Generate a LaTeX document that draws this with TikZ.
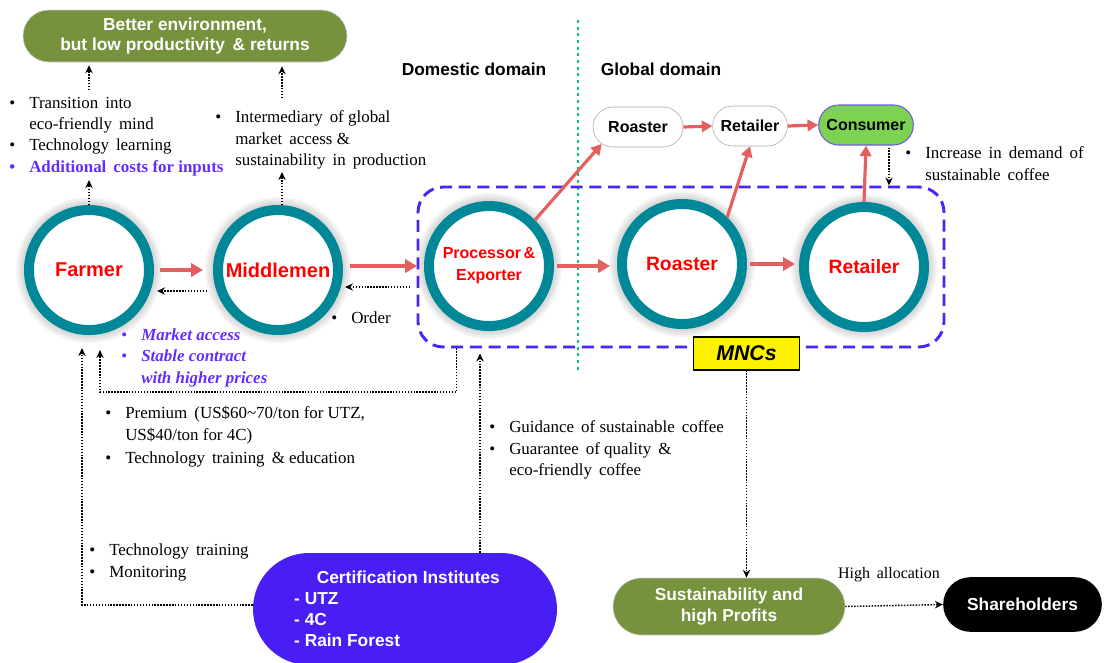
\documentclass[tikz,border=0pt]{standalone}
\usepackage{fontspec}
\setmainfont{Liberation Serif}
\setsansfont{Liberation Sans}
\usetikzlibrary{arrows.meta,calc,shapes.misc,backgrounds}
\definecolor{teal1}{RGB}{0,135,152}
\definecolor{redarr}{RGB}{226,96,96}
\definecolor{dashblue}{RGB}{72,36,255}
\definecolor{certblue}{RGB}{72,30,245}
\definecolor{txtblue}{RGB}{100,45,255}
\definecolor{olive1}{RGB}{118,146,60}
\definecolor{consgreen}{RGB}{125,210,82}
\definecolor{consborder}{RGB}{110,90,230}
\definecolor{dotgreen}{RGB}{0,200,110}
\newcommand{\bul}{\makebox[15pt][l]{•}}
\newcommand{\ind}{\hspace*{15pt}}
\begin{document}
\begin{tikzpicture}[x=0.75pt,y=-0.75pt,
  ring/.style={circle, draw=teal1, line width=7.5pt, fill=white, minimum size=90pt, inner sep=0pt, text=red, font=\sffamily\bfseries\fontsize{15}{18}\selectfont, align=center},
  redarrow/.style={draw=redarr, line width=3pt, -{Triangle[length=9pt,width=10pt]}},
  redarrowthin/.style={draw=redarr, line width=2.4pt, -{Triangle[length=8pt,width=8.5pt]}},
  dotarrow/.style={draw=black, line width=1.1pt, dash pattern=on 1.1pt off 1.1pt, -{Stealth[length=6pt,width=5.5pt]}},
  pill/.style={rounded rectangle, inner sep=0pt, align=center},
  serif/.style={font=\fontsize{12.7}{16}\selectfont, anchor=base west, inner sep=0pt, align=left},
  sanslbl/.style={font=\sffamily\bfseries\fontsize{13}{15}\selectfont, inner sep=0pt}
  ]
\useasboundingbox (0,0) rectangle (1106,662);

% top outcome box
\node[pill, fill=olive1, draw=gray!40, minimum width=243pt, minimum height=39pt, text=white,
      font=\sffamily\bfseries\fontsize{13}{14.5}\selectfont] (topbox) at (185,36)
      {Better environment,\\but low productivity \,\& returns};

% domain labels and divider
\node[sanslbl] (dom) at (474,69) {Domestic domain};
\node[sanslbl] (glob) at (661,69) {Global domain};
\coordinate (gtop) at (578,20);
\coordinate (gbot) at (578,370);
\draw[dotgreen, line width=2.2pt, dash pattern=on 2.2pt off 2.8pt] (gtop) -- (gbot);

% MNC dashed box
\node[draw=dashblue, line width=2.2pt, dash pattern=on 9pt off 5pt, rounded corners=19pt,
      minimum width=394.5pt, minimum height=120pt] (mnc) at (681,267) {};

% circles
\node[ring] (farmer) at (89,270) {Farmer};
\node[ring] (middlemen) at (278,270) {Middlemen};
\node[ring, font=\sffamily\bfseries\fontsize{12}{16.5}\selectfont] (processor) at (489,266) {Processor\,\&\\Exporter};
\node[ring, font=\sffamily\bfseries\fontsize{14.5}{18}\selectfont] (roasterC) at (682,264) {Roaster};
\node[ring, font=\sffamily\bfseries\fontsize{14.5}{18}\selectfont] (retailerC) at (864,267) {Retailer};

\begin{scope}[on background layer]
  \foreach \n in {farmer,middlemen,processor,roasterC,retailerC}{
    \foreach \r in {73,71,...,63}{
      \fill[black, opacity=0.04] (\n.center) circle[radius=\r*0.75pt];
    }
  }
\end{scope}

% MNCs label
\node[draw=black, line width=0.8pt, fill=yellow, minimum width=80pt, minimum height=24.75pt, inner sep=0pt,
      font=\sffamily\bfseries\itshape\fontsize{16}{18}\selectfont] (mncl) at (746.5,353.5) {MNCs};

% top chain
\node[pill, draw=gray!70, fill=white, minimum width=67.5pt, minimum height=30pt,
      font=\sffamily\bfseries\fontsize{12}{14}\selectfont] (roasterT) at (638,127) {Roaster};
\node[pill, draw=gray!70, fill=white, minimum width=56pt, minimum height=30pt,
      font=\sffamily\bfseries\fontsize{12}{14}\selectfont] (retailerT) at (750,126) {Retailer};
\node[pill, draw=consborder, line width=0.8pt, fill=consgreen, minimum width=71pt, minimum height=30pt,
      font=\sffamily\bfseries\fontsize{12}{14}\selectfont] (consumer) at (866,125) {Consumer};

% bottom nodes
\node[pill, fill=certblue, minimum width=228pt, minimum height=84pt, text=white,
      font=\sffamily\bfseries\fontsize{13}{15.75}\selectfont, align=left] (cert) at (405,609)
      {\hspace*{17pt}Certification Institutes\hspace*{12pt}\\- UTZ\\- 4C\\- Rain Forest};
\node[pill, fill=olive1, draw=gray!40, minimum width=174pt, minimum height=42.75pt, text=white,
      font=\sffamily\bfseries\fontsize{13}{15.75}\selectfont] (sus) at (729,606.5)
      {Sustainability and\\high Profits};
\node[pill, fill=black, minimum width=119pt, minimum height=41pt, text=white,
      font=\sffamily\bfseries\fontsize{13}{15}\selectfont] (share) at (1022.5,604.5) {Shareholders};

% text blocks (anchor = baseline of last line)
\node[serif] (ltxt) at (9,172) {\bul Transition \,into\\\ind eco-friendly \,mind\\\bul Technology \,learning\\\textcolor{txtblue}{\bfseries\bul Additional \,costs for inputs}};
\node[serif] (mtxt) at (215,165.5) {\bul Intermediary \,of global\\\ind market \,access \&\\\ind sustainability \,in \,production};
\node[serif, font=\fontsize{12.7}{16.5}\selectfont] (itxt) at (905,180) {\bul Increase \,in \,demand \,of\\\ind sustainable \,coffee};
\node[serif] (otxt) at (331,323) {\bul Order};
\node[serif, font=\fontsize{12.7}{15.8}\selectfont, text=txtblue] (atxt) at (121,383) {\bul\textbf{\textit{Market access}}\\\bul\textbf{\textit{Stable contract}}\\\ind\textbf{\textit{with higher prices}}};
\node[serif, font=\fontsize{12.7}{16.8}\selectfont] (ptxt) at (105,463) {\bul Premium \,(US\$60\textasciitilde 70/ton for UTZ,\\\ind US\$40/ton for 4C)\\\bul Technology \,training \,\& education};
\node[serif] (gtxt) at (489,475.5) {\bul Guidance \,of sustainable \,coffee\\\bul Guarantee \,of quality \,\&\\\ind eco-friendly \,coffee};
\node[serif, font=\fontsize{12.7}{16.5}\selectfont] (ttxt) at (89,577) {\bul Technology \,training\\\bul Monitoring};
\node[serif, font=\fontsize{12}{14}\selectfont, anchor=center] (hal) at (889,575) {High \,allocation};

% red flow arrows
\draw[redarrow, shorten <=4.5pt, shorten >=7.5pt] (farmer.east) -- (middlemen.west);
\draw[redarrow, shorten <=5.25pt, shorten >=5.25pt] (middlemen.east |- processor.west) -- (processor.west);
\draw[redarrow, shorten <=2.25pt, shorten >=5.25pt] (processor.east) -- (processor.east -| roasterC.west);
\draw[redarrow, shorten <=2.25pt, shorten >=3pt] (roasterC.east) -- (roasterC.east -| retailerC.west);
\draw[redarrowthin] (processor.45) -- (roasterT.205);
\draw[redarrowthin] (roasterC.46) -- (retailerT.south);
\draw[redarrowthin] (retailerC.north) -- (consumer.south);
\draw[redarrowthin] (roasterT.east) -- (retailerT.west);
\draw[redarrowthin] (retailerT.east) -- (consumer.west);

% dotted arrows
\draw[dotarrow] ($(farmer.north |- topbox.south)+(0,28)$) -- ($(farmer.north |- topbox.south)+(0,3)$);
\draw[dotarrow] ($(middlemen.north |- topbox.south)+(4,36)$) -- ($(middlemen.north |- topbox.south)+(4,4)$);
\draw[dotarrow] (farmer.north) -- ++(0,-25);
\draw[dotarrow] ($(middlemen.north)+(4,0)$) -- ++(0,-33);
\draw[dotarrow] ($(consumer.south)+(23,2)$) -- ($(consumer.south)+(23,40)$);
\draw[dotarrow, shorten <=4.5pt, shorten >=2.25pt] ([yshift=-15.75pt]middlemen.west) -- ([yshift=-15.75pt]farmer.east);
\draw[dotarrow, shorten <=10.5pt, shorten >=1.5pt] ([yshift=-15.75pt]processor.west) -- ([yshift=-15.75pt]processor.west -| middlemen.east);

\coordinate (mA) at ($(mnc.south west)+(40,0)$);
\coordinate (fA) at ($(farmer.south)+(11,15)$);
\draw[dotarrow] (mA) |- ($(fA)+(0,42)$) -- (fA);
\coordinate (fB) at ($(farmer.south)+(-7,13)$);
\draw[dotarrow] ([yshift=3pt]cert.west) -| (fB);
\coordinate (cA) at ($(cert.north)+(75,0)$);
\draw[dotarrow] (cA) -- ($(cA |- mnc.south)+(0,5)$);
\draw[dotarrow] (mncl.south) -- (mncl.south |- sus.north);
\draw[dotarrow] (sus.east) -- (share.west);
\end{tikzpicture}
\end{document}
